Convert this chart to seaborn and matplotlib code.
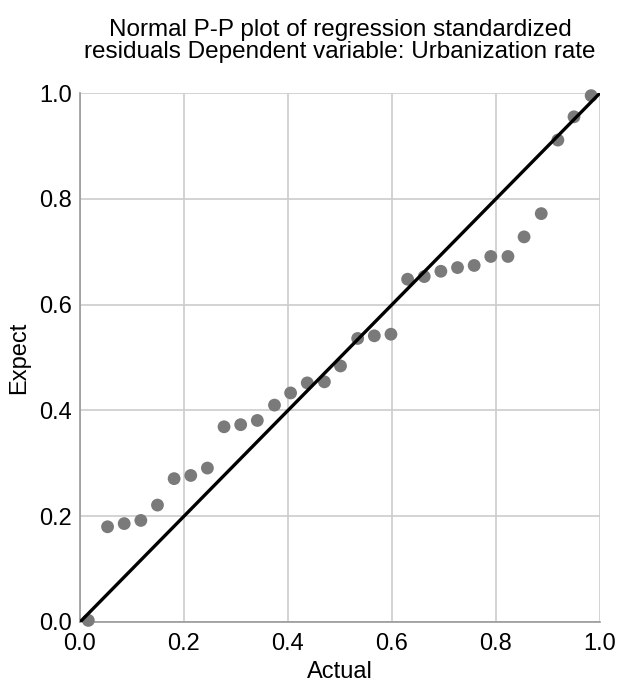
import seaborn as sns
import matplotlib.pyplot as plt
import pandas as pd

actual = [0.016, 0.053, 0.085, 0.117, 0.149, 0.181, 0.213, 0.245, 0.277, 0.309,
          0.341, 0.374, 0.405, 0.437, 0.470, 0.501, 0.534, 0.566, 0.598, 0.630,
          0.662, 0.694, 0.726, 0.758, 0.790, 0.823, 0.854, 0.887, 0.919, 0.950, 0.983]
expect = [0.003, 0.180, 0.186, 0.192, 0.221, 0.271, 0.277, 0.291, 0.369, 0.373,
          0.381, 0.410, 0.433, 0.452, 0.454, 0.484, 0.536, 0.541, 0.544, 0.648,
          0.653, 0.663, 0.670, 0.674, 0.691, 0.691, 0.728, 0.772, 0.911, 0.955, 0.995]
ticks = [0.0, 0.2, 0.4, 0.6, 0.8, 1.0]

df = pd.DataFrame({"Actual": actual, "Expect": expect})

sns.set_theme(style="whitegrid")
plt.rcParams['font.family'] = ['Liberation Sans', 'DejaVu Sans']
plt.rcParams['text.color'] = 'black'
plt.rcParams['axes.labelcolor'] = 'black'

fig = plt.figure(figsize=(6.23, 6.91), dpi=100)
ax = fig.add_axes([80 / 623, 1 - 622 / 691, 520 / 623, 529 / 691])

sns.scatterplot(data=df, x="Actual", y="Expect", ax=ax, color="#7a7a7a",
                s=85, edgecolor="none", zorder=3, clip_on=False)
sns.lineplot(x=[0, 1], y=[0, 1], ax=ax, color="black", linewidth=2.4, zorder=4)

ax.set_xlim(0, 1)
ax.set_ylim(0, 1)
ax.set_xticks(ticks)
ax.set_yticks(ticks)
ax.set_xticklabels([f"{t:.1f}" for t in ticks], fontsize=17)
ax.set_yticklabels([f"{t:.1f}" for t in ticks], fontsize=17)
ax.tick_params(axis="x", colors="black", pad=8, length=0)
ax.tick_params(axis="y", colors="black", pad=6, length=0)
ax.grid(True, color="#cccccc", linewidth=1.2)
for side, sp in ax.spines.items():
    sp.set_visible(side in ("left", "bottom"))
    sp.set_color("#999999")
    sp.set_linewidth(1.2)

ax.set_xlabel("Actual", fontsize=17, labelpad=4, color="black")
ax.set_ylabel("Expect", fontsize=17, labelpad=6, color="black")
ax.set_title("Normal P-P plot of regression standardized\nresiduals Dependent variable: Urbanization rate",
             fontsize=17.5, pad=25, linespacing=1.0, color="black")

fig.savefig("out.png", dpi=100)
